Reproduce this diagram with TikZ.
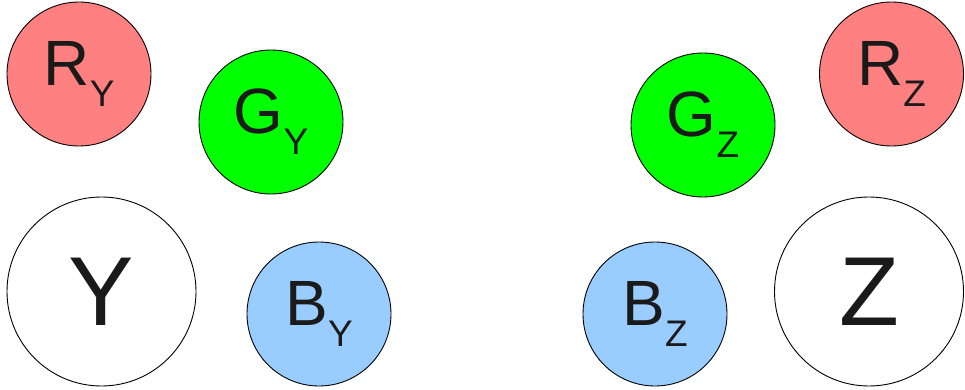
\documentclass[tikz,border=0pt]{standalone}
\usepackage{fontspec}
\setmainfont{Liberation Sans}
\definecolor{cred}{HTML}{FF8080}
\definecolor{cgreen}{HTML}{00FF00}
\definecolor{cblue}{HTML}{99CCFF}
\definecolor{txt}{HTML}{1A1A1A}
\newcommand{\lbl}[2]{{\fontsize{64}{64}\selectfont #1\raisebox{-21pt}{\fontsize{37}{37}\selectfont #2}}}
\begin{document}
\begin{tikzpicture}[x=1pt,y=-1pt]
\tikzset{
  ball/.style={circle, draw=black, line width=0.9pt, inner sep=0pt, minimum size=144pt, text=txt},
  bigball/.style={circle, draw=black, line width=0.9pt, inner sep=0pt, minimum size=189pt, fill=white, text=txt, font=\fontsize{98}{98}\selectfont}
}
\useasboundingbox (0,0) rectangle (965,390);
\node[ball, fill=cred] (RY) at (79,74) {\lbl{R}{Y}};
\node[ball, fill=cgreen] (GY) at (271,122) {\lbl{G}{Y}};
\node[bigball] (Y) at (101.5,291.5) {Y};
\node[ball, fill=cblue] (BY) at (319,314) {\lbl{B}{Y}};
\node[ball, fill=cgreen] (GZ) at (703,125) {\lbl{G}{Z}};
\node[ball, fill=cred] (RZ) at (891.5,74) {\lbl{R}{Z}};
\node[ball, fill=cblue] (BZ) at (655,314) {\lbl{B}{Z}};
\node[bigball] (Z) at (869,291.5) {Z};
\end{tikzpicture}
\end{document}
